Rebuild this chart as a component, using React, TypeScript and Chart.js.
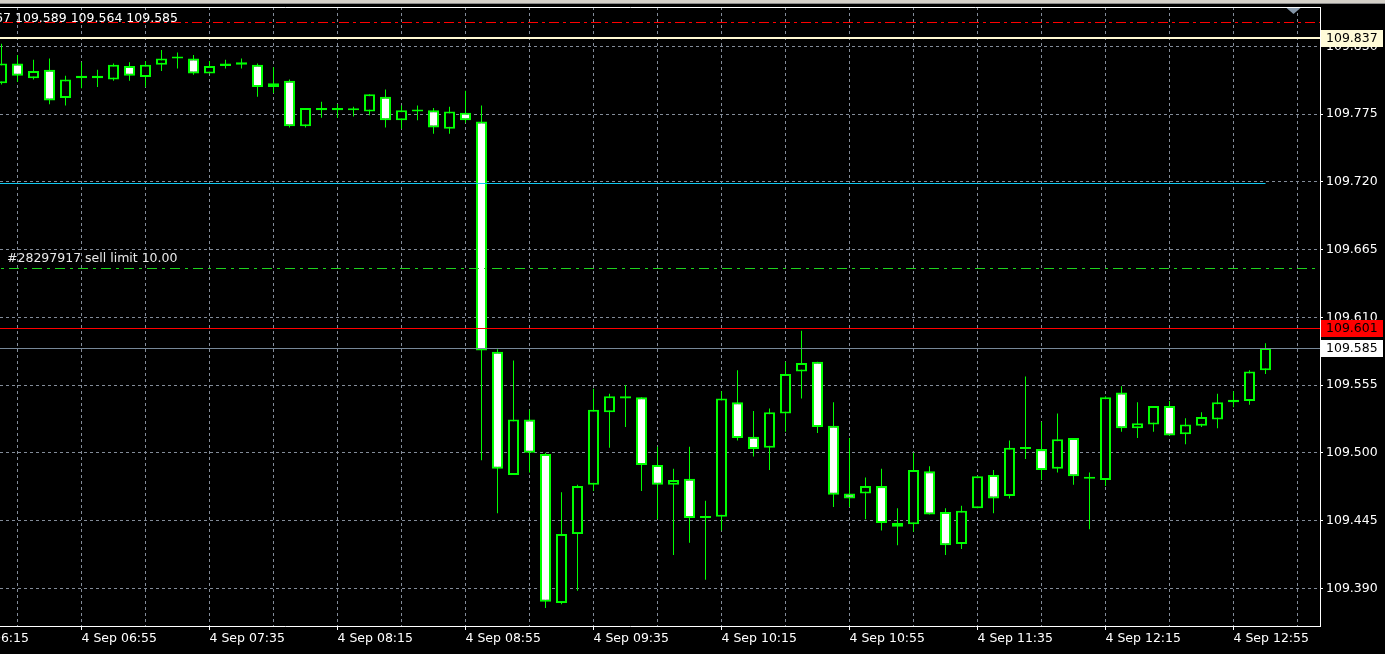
import React, { useEffect, useRef } from 'react';
import { Chart, registerables } from 'chart.js';

Chart.register(...registerables);

// ---------- data ----------
const times = [
  '06:30', '06:35', '06:40', '06:45', '06:50', '06:55', '07:00', '07:05', '07:10', '07:15',
  '07:20', '07:25', '07:30', '07:35', '07:40', '07:45', '07:50', '07:55', '08:00', '08:05',
  '08:10', '08:15', '08:20', '08:25', '08:30', '08:35', '08:40', '08:45', '08:50', '08:55',
  '09:00', '09:05', '09:10', '09:15', '09:20', '09:25', '09:30', '09:35', '09:40', '09:45',
  '09:50', '09:55', '10:00', '10:05', '10:10', '10:15', '10:20', '10:25', '10:30', '10:35',
  '10:40', '10:45', '10:50', '10:55', '11:00', '11:05', '11:10', '11:15', '11:20', '11:25',
  '11:30', '11:35', '11:40', '11:45', '11:50', '11:55', '12:00', '12:05', '12:10', '12:15',
  '12:20', '12:25', '12:30', '12:35', '12:40', '12:45', '12:50', '12:55', '13:00', '13:05',
];

const opens = [
  109.800, 109.816, 109.804, 109.811, 109.788, 109.806, 109.806, 109.803, 109.814, 109.805,
  109.815, 109.820, 109.820, 109.808, 109.814, 109.817, 109.815, 109.797, 109.802, 109.765,
  109.780, 109.780, 109.778, 109.777, 109.789, 109.770, 109.777, 109.778, 109.763, 109.776,
  109.769, 109.582, 109.482, 109.527, 109.499, 109.378, 109.434, 109.474, 109.533, 109.546,
  109.545, 109.490, 109.474, 109.479, 109.447, 109.448, 109.541, 109.513, 109.504, 109.532,
  109.566, 109.574, 109.522, 109.467, 109.467, 109.473, 109.443, 109.442, 109.485, 109.452,
  109.426, 109.455, 109.482, 109.465, 109.503, 109.503, 109.487, 109.512, 109.479, 109.478,
  109.549, 109.520, 109.523, 109.538, 109.515, 109.522, 109.527, 109.541, 109.542, 109.567,
];
const highs = [
  109.832, 109.823, 109.819, 109.820, 109.806, 109.817, 109.811, 109.816, 109.817, 109.818,
  109.827, 109.825, 109.823, 109.818, 109.819, 109.820, 109.816, 109.813, 109.803, 109.780,
  109.785, 109.783, 109.781, 109.791, 109.795, 109.782, 109.782, 109.780, 109.781, 109.794,
  109.782, 109.584, 109.575, 109.535, 109.500, 109.468, 109.474, 109.552, 109.548, 109.555,
  109.545, 109.505, 109.487, 109.505, 109.461, 109.550, 109.567, 109.534, 109.536, 109.574,
  109.599, 109.574, 109.541, 109.512, 109.480, 109.487, 109.455, 109.500, 109.489, 109.455,
  109.457, 109.481, 109.486, 109.510, 109.562, 109.525, 109.532, 109.512, 109.484, 109.546,
  109.554, 109.541, 109.538, 109.542, 109.528, 109.533, 109.548, 109.550, 109.567, 109.589,
];
const lows = [
  109.799, 109.801, 109.803, 109.783, 109.782, 109.796, 109.797, 109.802, 109.802, 109.797,
  109.810, 109.812, 109.807, 109.808, 109.812, 109.812, 109.789, 109.792, 109.764, 109.764,
  109.772, 109.772, 109.773, 109.774, 109.764, 109.763, 109.770, 109.759, 109.759, 109.768,
  109.494, 109.451, 109.482, 109.484, 109.374, 109.377, 109.388, 109.469, 109.504, 109.521,
  109.469, 109.446, 109.417, 109.427, 109.397, 109.437, 109.510, 109.497, 109.486, 109.517,
  109.544, 109.516, 109.456, 109.456, 109.446, 109.437, 109.425, 109.436, 109.450, 109.417,
  109.422, 109.455, 109.451, 109.463, 109.495, 109.478, 109.484, 109.474, 109.438, 109.473,
  109.517, 109.512, 109.517, 109.514, 109.507, 109.521, 109.520, 109.537, 109.539, 109.564,
];
const closes = [
  109.816, 109.806, 109.810, 109.786, 109.803, 109.804, 109.804, 109.815, 109.806, 109.815,
  109.820, 109.820, 109.808, 109.814, 109.816, 109.815, 109.797, 109.800, 109.765, 109.780,
  109.778, 109.778, 109.778, 109.791, 109.770, 109.778, 109.777, 109.764, 109.777, 109.770,
  109.583, 109.487, 109.527, 109.500, 109.379, 109.434, 109.473, 109.535, 109.546, 109.544,
  109.490, 109.474, 109.478, 109.447, 109.447, 109.544, 109.512, 109.503, 109.533, 109.564,
  109.573, 109.521, 109.466, 109.463, 109.473, 109.443, 109.440, 109.486, 109.450, 109.425,
  109.453, 109.481, 109.463, 109.504, 109.503, 109.486, 109.511, 109.481, 109.479, 109.545,
  109.520, 109.524, 109.538, 109.514, 109.523, 109.529, 109.541, 109.543, 109.566, 109.585,
];

const yTicks = [109.390, 109.445, 109.500, 109.555, 109.610, 109.665, 109.720, 109.775, 109.830];
const xGridTimes = [
  '06:15', '06:35', '06:55', '07:15', '07:35', '07:55', '08:15', '08:35', '08:55', '09:15', '09:35',
  '09:55', '10:15', '10:35', '10:55', '11:15', '11:35', '11:55', '12:15', '12:35', '12:55', '13:15',
];
const xLabelTimes = ['06:15', '06:55', '07:35', '08:15', '08:55', '09:35', '10:15', '10:55', '11:35', '12:15', '12:55'];
const dateLabel = '4 Sep';

// horizontal levels: stop (dash-dot red), high, take-profit, sell limit, alert, bid
const levelValues = [109.850, 109.837, 109.719, 109.650, 109.601, 109.585];
const levelTagged = [false, true, false, false, true, true];
const orderText = '#28297917 sell limit 10.00';
const headerText = 'USDJPY,M5 109.567 109.589 109.564 109.585';

// ---------- styles ----------
const levelStyles = [
  { color: '#ff0000', width: 1, dash: [10, 4, 3, 4], toLast: false, tagBg: '', tagFg: '' },
  { color: '#fff8d2', width: 2, dash: [], toLast: false, tagBg: '#fffbd8', tagFg: '#000000' },
  { color: '#10c8f0', width: 1, dash: [], toLast: true, tagBg: '', tagFg: '' },
  { color: '#1ed21e', width: 1, dash: [10, 5, 3, 5], toLast: false, tagBg: '', tagFg: '' },
  { color: '#ff0000', width: 1, dash: [], toLast: false, tagBg: '#ff0000', tagFg: '#000000' },
  { color: '#778899', width: 1, dash: [], toLast: false, tagBg: '#ffffff', tagFg: '#000000' },
];
const SHIFT = 60; // canvas is shifted left so the partly hidden first label can be drawn
const FONT = '"DejaVu Sans"';
const GRID = '#838c99';
const LIME = '#00ff00';

const toMin = (t: string) => Number(t.slice(0, 2)) * 60 + Number(t.slice(3, 5));
const fmt = (m: number) => {
  const h = Math.floor(m / 60);
  const mm = Math.round(m - h * 60);
  return String(h).padStart(2, '0') + ':' + String(mm).padStart(2, '0');
};

const overlay = {
  id: 'overlay',
  beforeDraw(chart: any) {
    const { ctx, width, height } = chart;
    ctx.save();
    ctx.fillStyle = '#000000';
    ctx.fillRect(0, 0, width, height);
    ctx.fillStyle = '#d4d0c8';
    ctx.fillRect(0, 0, width, 3);
    ctx.fillStyle = '#8c8c8c';
    ctx.fillRect(0, 3, width, 1);
    ctx.restore();
  },
  afterDatasetsDraw(chart: any) {
    const { ctx, chartArea: a, scales } = chart;
    const ys = scales.y;
    const xs = scales.x;
    ctx.save();
    ctx.beginPath();
    ctx.rect(a.left, a.top, a.right - a.left, a.bottom - a.top);
    ctx.clip();
    levelValues.forEach((v, k) => {
      const st = levelStyles[k];
      const py = Math.round(ys.getPixelForValue(v)) + (st.width % 2 ? 0.5 : 0);
      const xEnd = st.toLast ? xs.getPixelForValue(toMin(times[times.length - 1])) : a.right;
      ctx.strokeStyle = st.color;
      ctx.lineWidth = st.width;
      ctx.setLineDash(st.dash);
      ctx.beginPath();
      ctx.moveTo(a.left, py);
      ctx.lineTo(xEnd, py);
      ctx.stroke();
    });
    ctx.restore();
  },
  afterDraw(chart: any) {
    const { ctx, chartArea: a, scales } = chart;
    const ys = scales.y;
    ctx.save();
    // top frame line
    ctx.strokeStyle = '#ffffff';
    ctx.lineWidth = 1;
    ctx.beginPath();
    ctx.moveTo(a.left, a.top + 0.5);
    ctx.lineTo(a.right + 1, a.top + 0.5);
    ctx.stroke();
    // chart shift marker
    const cx = a.right - 26.5;
    ctx.fillStyle = '#8596a8';
    ctx.beginPath();
    ctx.moveTo(cx - 7, a.top + 1);
    ctx.lineTo(cx + 7, a.top + 1);
    ctx.lineTo(cx, a.top + 7);
    ctx.closePath();
    ctx.fill();
    // price tags
    ctx.font = `12.5px ${FONT}`;
    ctx.textBaseline = 'middle';
    ctx.textAlign = 'left';
    levelValues.forEach((v, k) => {
      if (!levelTagged[k]) return;
      const st = levelStyles[k];
      const py = Math.round(ys.getPixelForValue(v));
      ctx.fillStyle = st.tagBg;
      ctx.fillRect(a.right + 1, py - 8, 62, 17);
      ctx.fillStyle = st.tagFg;
      ctx.fillText(v.toFixed(3), a.right + 6, py + 1);
    });
    // header OHLC text
    ctx.fillStyle = '#ffffff';
    ctx.textAlign = 'right';
    ctx.fillText(headerText, SHIFT + 178, 19);
    // order label above the sell-limit line
    const gy = Math.round(ys.getPixelForValue(levelValues[3]));
    ctx.textAlign = 'left';
    ctx.fillStyle = '#e8e8e8';
    ctx.fillText(orderText, SHIFT + 7, gy - 9);
    ctx.restore();
  },
};

export default function App() {
  const ref = useRef<HTMLCanvasElement | null>(null);

  useEffect(() => {
    if (!ref.current) return;
    const bodies = times.map((t, i) => ({ x: toMin(t), y: [opens[i], closes[i]] }));
    const wicks = times.map((t, i) => ({ x: toMin(t), y: [lows[i], highs[i]] }));
    const fills = times.map((_, i) => (closes[i] < opens[i] ? '#ffffff' : '#000000'));
    const labelSet = new Set(xLabelTimes);

    const chart = new Chart(ref.current, {
      type: 'bar',
      data: {
        datasets: [
          {
            label: 'body',
            data: bodies as any,
            backgroundColor: fills,
            borderColor: LIME,
            borderWidth: 2,
            borderSkipped: false,
            barThickness: 11,
            minBarLength: 2,
            grouped: false,
            inflateAmount: 0,
            order: 0,
          } as any,
          {
            label: 'wick',
            data: wicks as any,
            backgroundColor: LIME,
            borderWidth: 0,
            barThickness: 1,
            grouped: false,
            inflateAmount: 0,
            order: 1,
          } as any,
        ],
      },
      options: {
        animation: false,
        responsive: false,
        devicePixelRatio: 1,
        layout: { padding: { top: 7, left: 0, right: 0, bottom: 0 } },
        plugins: { legend: { display: false }, tooltip: { enabled: false }, title: { display: false } },
        scales: {
          x: {
            type: 'linear',
            position: 'bottom',
            offset: false,
            min: 370.78125,
            max: 802.03125,
            bounds: 'data',
            afterBuildTicks: (s: any) => {
              s.ticks = xGridTimes.map((t) => ({ value: toMin(t) }));
            },
            afterFit: (s: any) => {
              s.height = 28;
              s.paddingLeft = 0;
              s.paddingRight = 0;
            },
            grid: {
              offset: false,
              color: GRID,
              lineWidth: 1,
              drawTicks: true,
              tickLength: 4,
              tickColor: (c: any) => (c.tick && labelSet.has(fmt(c.tick.value)) ? '#ffffff' : 'rgba(0,0,0,0)'),
            },
            border: { display: true, color: '#ffffff', width: 1, dash: [3, 3] },
            ticks: {
              autoSkip: false,
              maxRotation: 0,
              minRotation: 0,
              align: 'start',
              padding: 1,
              color: '#ffffff',
              font: { family: FONT, size: 12.5 },
              callback: (v: any) => (labelSet.has(fmt(Number(v))) ? `${dateLabel} ${fmt(Number(v))}` : ''),
            },
          } as any,
          y: {
            type: 'linear',
            position: 'right',
            offset: false,
            min: 109.359394,
            max: 109.861904,
            afterBuildTicks: (s: any) => {
              s.ticks = yTicks.map((v) => ({ value: v }));
            },
            afterFit: (s: any) => {
              s.width = 65;
              s.paddingTop = 0;
              s.paddingBottom = 0;
            },
            grid: {
              color: GRID,
              lineWidth: 1,
              drawTicks: true,
              tickLength: 3,
              tickColor: '#ffffff',
            },
            border: { display: true, color: '#ffffff', width: 1, dash: [3, 3] },
            ticks: {
              padding: 3,
              color: '#ffffff',
              font: { family: FONT, size: 12.5 },
              callback: (v: any) => Number(v).toFixed(3),
            },
          } as any,
        },
      },
      plugins: [overlay],
    });
    return () => chart.destroy();
  }, []);

  return (
    <div
      style={{
        position: 'fixed',
        left: 0,
        top: 0,
        width: 1385,
        height: 654,
        overflow: 'hidden',
        background: '#000000',
      }}
    >
      <canvas
        ref={ref}
        width={1385 + SHIFT}
        height={654}
        style={{ position: 'absolute', left: -SHIFT, top: 0, width: 1385 + SHIFT, height: 654 }}
      />
    </div>
  );
}
